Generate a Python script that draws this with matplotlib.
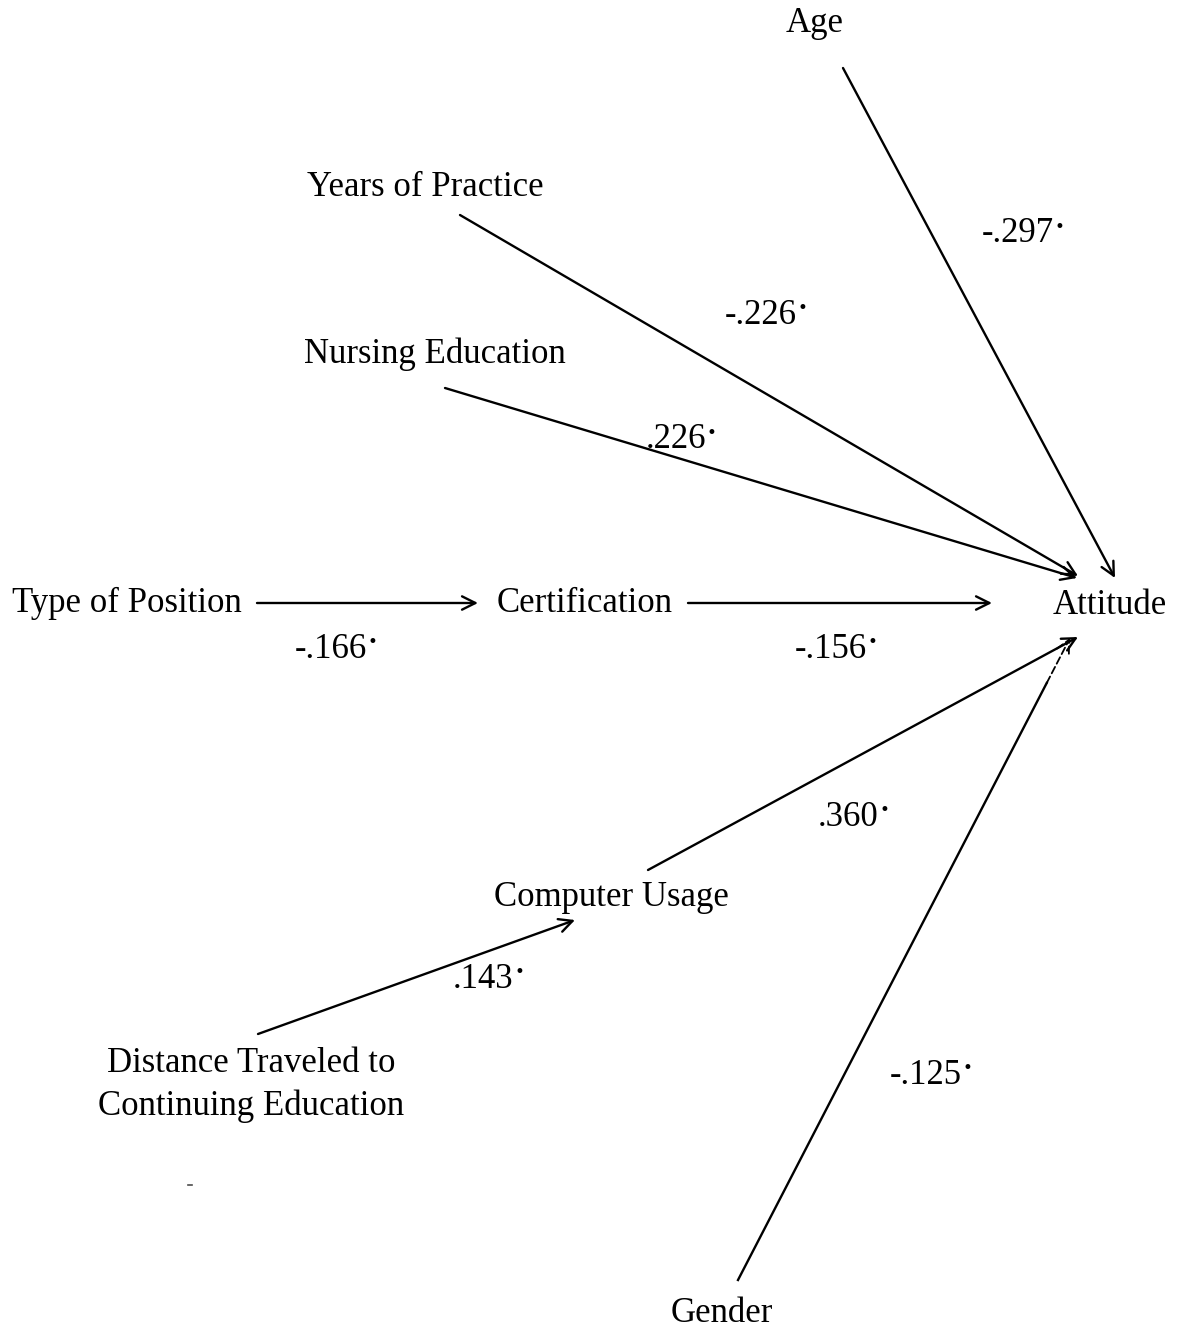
import matplotlib.pyplot as plt

# ── data ──────────────────────────────────────────────────────────────────────
nodes = ['Age', 'Years of Practice', 'Nursing Education', 'Type of Position',
         'Certification', 'Attitude', 'Computer Usage',
         'Distance Traveled to\nContinuing Education', 'Gender']
edge_src = ['Age', 'Years of Practice', 'Nursing Education', 'Type of Position',
            'Certification', 'Computer Usage',
            'Distance Traveled to\nContinuing Education', 'Gender']
edge_dst = ['Attitude', 'Attitude', 'Attitude', 'Certification',
            'Attitude', 'Attitude', 'Computer Usage', 'Attitude']
coefs = ['-.297', '-.226', '.226', '-.166', '-.156', '.360', '.143', '-.125']

# ── layout (pixel coords, y down) ─────────────────────────────────────────────
node_pos = {
    'Age': (815, 24),
    'Years of Practice': (425, 188),
    'Nursing Education': (435, 354),
    'Type of Position': (127, 603),
    'Certification': (585, 604),
    'Attitude': (1110, 606),
    'Computer Usage': (611, 898),
    'Distance Traveled to\nContinuing Education': (251, 1085),
    'Gender': (722, 1313),
}
# arrow start / end points per edge
arrow_pts = [
    ((843, 68), (1115, 578)),
    ((460, 215), (1078, 576)),
    ((445, 388), (1077, 578)),
    ((257, 603), (478, 603)),
    ((688, 603), (992, 603)),
    ((648, 870), (1078, 637)),
    ((258, 1034), (575, 920)),
    ((738, 1280), (1070, 638)),
]
label_pos = [(1018, 234), (761, 315), (676, 440), (331, 649), (831, 649),
             (848, 817), (483, 979), (926, 1075)]

FONT = 'Liberation Serif'
FS = 25

fig = plt.figure(figsize=(11.83, 13.34), dpi=100)
ax = fig.add_axes([0, 0, 1, 1])
ax.set_xlim(0, 1183)
ax.set_ylim(1334, 0)
ax.axis('off')

for name in nodes:
    x, y = node_pos[name]
    ax.text(x, y, name, ha='center', va='center', fontsize=FS,
            family=FONT, linespacing=1.35)

arrow_kw = dict(arrowstyle='->', color='black', lw=1.7, mutation_scale=24,
                shrinkA=0, shrinkB=0)
for (p0, p1), s, d in zip(arrow_pts, edge_src, edge_dst):
    if s == 'Gender':
        # lower part solid, last bit broken (as in the scan)
        t = 0.93
        mid = (p0[0] + t * (p1[0] - p0[0]), p0[1] + t * (p1[1] - p0[1]))
        ax.plot([p0[0], mid[0]], [p0[1], mid[1]], color='black', lw=1.7)
        ax.annotate('', xy=p1, xytext=mid,
                    arrowprops=dict(arrow_kw, linestyle=(0, (4, 2)), lw=1.3))
    else:
        ax.annotate('', xy=p1, xytext=p0, arrowprops=arrow_kw)

for (x, y), c in zip(label_pos, coefs):
    t = ax.text(x, y, c, ha='center', va='center', fontsize=FS, family=FONT)
    ax.annotate('\u2022', xy=(1, 0.97), xycoords=t, xytext=(0.5, 0),
                textcoords='offset points', ha='left', va='top',
                fontsize=12, family='DejaVu Sans')

# stray speck in the scan
ax.plot([188, 192], [1185, 1185], color='0.3', lw=1.2)

fig.savefig('out.png', dpi=100)
